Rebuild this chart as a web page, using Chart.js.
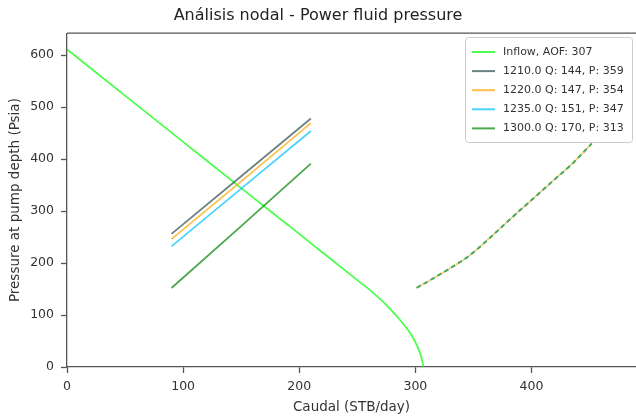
<!DOCTYPE html>
<html>
<head>
<meta charset="utf-8">
<script src="https://cdn.jsdelivr.net/npm/chart.js@4/dist/chart.umd.min.js"></script>
<style>
  body { margin: 0; background: #fff; }
  #wrap { width: 636px; height: 417px; }
</style>
</head>
<body>
<div id="wrap"><canvas id="nodal-chart"></canvas></div>
<script>
// Chart data
const xTicks = [0, 100, 200, 300, 400];
const yTicks = [0, 100, 200, 300, 400, 500, 600];

const seriesLabels = ['Inflow, AOF: 307', '1210.0 Q: 144, P: 359', '1220.0 Q: 147, P: 354', '1235.0 Q: 151, P: 347', '1300.0 Q: 170, P: 313'];

// inflow (IPR)
const inflowQ = [0, 50, 100, 150, 200, 250, 262, 270, 279, 287, 294, 299.5, 303.5, 305.6, 307];
const inflowP = [611, 522, 433, 344, 256, 167, 146, 130, 110, 90, 70, 50, 30, 15, 0];

// outflow for each power fluid pressure
const outQ = [90, 150, 210];
const out1210P = [256, 367, 478];
const out1220P = [246, 357, 469];
const out1235P = [232, 343, 454];
const out1300P = [152, 271, 391];

// pump curve (dashed)
const pumpQ = [301, 315, 330, 347, 364, 381, 401, 419, 436, 452];
const pumpP = [152, 170, 190, 215, 248, 283, 323, 359, 393, 430];

const colors = ['rgba(0,255,0,0.7)', 'rgba(47,79,79,0.7)', 'rgba(255,165,0,0.7)', 'rgba(0,191,255,0.7)', 'rgba(0,128,0,0.7)'];

function pts(xs, ys) {
    return xs.map((x, i) => ({ x: x, y: ys[i] }));
}

const FONT = "'DejaVu Sans', sans-serif";

const datasets = [];
datasets.push({ label: seriesLabels[0], data: pts(inflowQ, inflowP), borderColor: colors[0], borderWidth: 1.8, cubicInterpolationMode: 'monotone', order: 5 });
[out1210P, out1220P, out1235P, out1300P].forEach((p, i) => {
    datasets.push({ label: seriesLabels[i + 1], data: pts(outQ, p), borderColor: colors[i + 1], borderWidth: 1.8, order: 4 - i });
});
// dashed pump curves lying on top of each other, not in legend
datasets.push({ label: '_pumpOrange', data: pts(pumpQ, pumpP), borderColor: colors[2], borderWidth: 2, borderDash: [1.5, 6.5], borderDashOffset: -5.8, cubicInterpolationMode: 'monotone', order: 2 });
datasets.push({ label: '_pumpGreen', data: pts(pumpQ, pumpP), borderColor: colors[4], borderWidth: 2, borderDash: [5, 3], cubicInterpolationMode: 'monotone', order: 1 });

// matplotlib-like legend box in upper right
const boxLegend = {
    id: 'boxLegend',
    afterDraw(chart) {
        const ctx = chart.ctx;
        const x0 = 465, y0 = 37, w = 167, h = 105;
        ctx.save();
        ctx.beginPath();
        ctx.roundRect(x0 + 0.5, y0 + 0.5, w, h, 3);
        ctx.fillStyle = 'rgba(255,255,255,0.8)';
        ctx.fill();
        ctx.strokeStyle = '#cccccc';
        ctx.lineWidth = 1;
        ctx.stroke();
        ctx.font = '11px ' + FONT;
        ctx.textBaseline = 'middle';
        ctx.fillStyle = '#333';
        seriesLabels.forEach((label, i) => {
            const y = 52 + i * 19.1;
            ctx.beginPath();
            ctx.moveTo(472, y);
            ctx.lineTo(495, y);
            ctx.strokeStyle = colors[i];
            ctx.lineWidth = 2;
            ctx.stroke();
            ctx.fillText(label, 503, y);
        });
        ctx.restore();
    }
};

// top spine
const topSpine = {
    id: 'topSpine',
    afterDraw(chart) {
        const a = chart.chartArea;
        const ctx = chart.ctx;
        ctx.save();
        ctx.strokeStyle = '#555';
        ctx.lineWidth = 1.3;
        ctx.beginPath();
        ctx.moveTo(a.left, a.top);
        ctx.lineTo(a.right, a.top);
        ctx.stroke();
        ctx.restore();
    }
};

new Chart(document.getElementById('nodal-chart'), {
    type: 'line',
    data: { datasets: datasets },
    plugins: [topSpine, boxLegend],
    options: {
        responsive: true,
        maintainAspectRatio: false,
        animation: false,
        layout: { padding: 0 },
        elements: { point: { radius: 0 } },
        plugins: {
            legend: { display: false },
            tooltip: { enabled: false },
            title: {
                display: true,
                text: 'Análisis nodal - Power fluid pressure',
                color: '#222',
                font: { family: FONT, size: 16, weight: 'normal' },
                padding: { top: 6, bottom: 8 }
            }
        },
        scales: {
            x: {
                type: 'linear',
                min: 0,
                max: 490,
                afterFit: s => { s.height = 50; },
                afterBuildTicks: s => { s.ticks = xTicks.map(v => ({ value: v })); },
                grid: { drawOnChartArea: false, drawTicks: true, tickLength: 6, tickColor: '#555', tickWidth: 1.3 },
                border: { display: true, color: '#555', width: 1.3 },
                ticks: { color: '#333', padding: 6, font: { family: FONT, size: 12.5 }, maxRotation: 0 },
                title: { display: true, text: 'Caudal (STB/day)', color: '#333', font: { family: FONT, size: 13.5 }, padding: { top: 0, bottom: 1 } }
            },
            y: {
                type: 'linear',
                min: 0,
                max: 642,
                afterFit: s => { s.width = 67; },
                afterBuildTicks: s => { s.ticks = yTicks.map(v => ({ value: v })); },
                grid: { drawOnChartArea: false, drawTicks: true, tickLength: 6, tickColor: '#555', tickWidth: 1.3 },
                border: { display: true, color: '#555', width: 1.3 },
                ticks: { color: '#333', padding: 7, font: { family: FONT, size: 12.5 } },
                title: { display: true, text: 'Pressure at pump depth (Psia)', color: '#333', font: { family: FONT, size: 13.5 }, padding: { top: 7, bottom: 0 } }
            }
        }
    }
});
</script>
</body>
</html>
